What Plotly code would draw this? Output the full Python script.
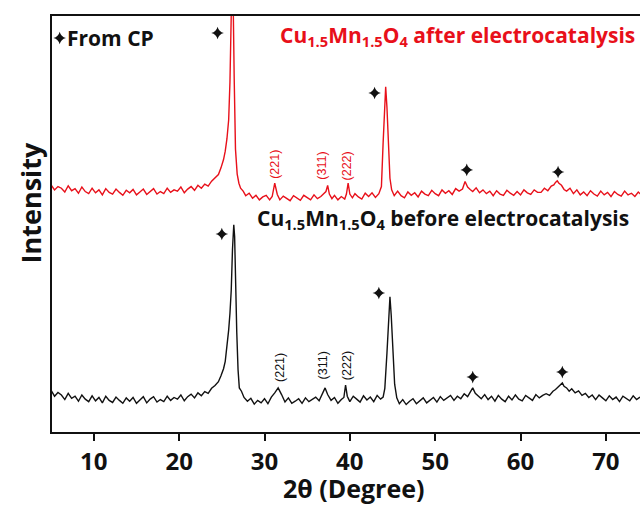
import plotly.graph_objects as go

# ---------------- data ----------------
red_x = [5.0, 5.4, 5.8, 6.2, 6.6, 7.0, 7.4, 7.8, 8.2, 8.6, 9.0, 9.4, 9.8, 10.2, 10.6, 11.0, 11.4, 11.8,
         12.2, 12.6, 13.0, 13.4, 13.8, 14.2, 14.6, 15.0, 15.4, 15.8, 16.2, 16.6, 17.0, 17.4, 17.8, 18.2,
         18.6, 19.0, 19.4, 19.8, 20.2, 20.6, 21.0, 21.4, 21.8, 22.2, 22.6, 23.0, 23.4, 23.8, 24.2, 24.6,
         24.9, 25.2, 25.4, 25.6, 25.8, 25.95, 26.1, 26.2, 26.3, 26.45, 26.6, 26.8, 27.0, 27.2, 27.5, 27.8,
         28.2, 28.6, 29.0, 29.4, 29.8, 30.2, 30.6, 30.9, 31.2, 31.5, 31.8, 32.2, 32.6, 33.0, 33.4, 33.8,
         34.2, 34.6, 35.0, 35.4, 35.8, 36.2, 36.6, 37.0, 37.2, 37.4, 37.6, 37.9, 38.2, 38.6, 39.0, 39.4,
         39.6, 39.8, 40.0, 40.3, 40.6, 41.0, 41.4, 41.8, 42.2, 42.6, 43.0, 43.4, 43.7, 43.9, 44.05, 44.2,
         44.35, 44.5, 44.7, 44.9, 45.2, 45.6, 46.0, 46.4, 46.8, 47.2, 47.6, 48.0, 48.4, 48.8, 49.2, 49.6,
         50.0, 50.4, 50.8, 51.2, 51.6, 52.0, 52.4, 52.8, 53.2, 53.5, 53.8, 54.1, 54.4, 54.8, 55.2, 55.6,
         56.0, 56.4, 56.8, 57.2, 57.6, 58.0, 58.4, 58.8, 59.2, 59.6, 60.0, 60.4, 60.8, 61.2, 61.6, 62.0,
         62.4, 62.8, 63.2, 63.6, 63.9, 64.1, 64.3, 64.5, 64.8, 65.1, 65.4, 65.8, 66.2, 66.6, 67.0, 67.4,
         67.8, 68.2, 68.6, 69.0, 69.4, 69.8, 70.2, 70.6, 71.0, 71.4, 71.8, 72.2, 72.6, 73.0, 73.4, 73.8, 74.2]
red_y = [59.4, 58.2, 59.0, 58.6, 57.7, 59.2, 58.0, 58.5, 57.4, 58.9, 57.8, 57.3, 58.6, 57.5, 58.2, 57.0, 58.5, 57.6,
         57.2, 58.4, 57.6, 56.9, 58.1, 57.5, 58.3, 57.0, 57.7, 58.4, 57.1, 57.9, 58.5, 57.2, 57.8, 57.3,
         58.6, 57.6, 58.2, 57.9, 58.9, 57.5, 58.4, 59.0, 58.1, 59.3, 58.6, 59.6, 59.1, 60.3, 61.0, 61.9,
         63.5, 65.5, 67.5, 70.5, 75.0, 84.0, 100.0, 115.0, 108.0, 85.0, 68.0, 62.0, 59.8, 58.6, 57.9, 56.8,
         57.4, 56.2, 56.9, 55.8, 56.5, 56.9, 55.8, 56.6, 59.8, 57.1, 55.8, 56.7, 56.1, 55.6, 56.8, 56.2,
         55.7, 56.9, 56.3, 55.8, 57.0, 56.1, 56.6, 57.3, 57.8, 59.3, 57.2, 56.1, 56.9, 55.8, 56.6, 56.0,
         57.2, 59.8, 57.2, 56.3, 57.3, 56.5, 56.0, 57.4, 56.6, 57.5, 56.4, 57.3, 59.0, 69.5, 78.0, 83.0,
         78.0, 69.5, 61.0, 58.2, 56.8, 57.9, 56.8, 56.3, 57.7, 56.9, 57.5, 56.5, 57.9, 57.2, 56.8, 58.1,
         57.3, 56.8, 58.2, 57.4, 58.0, 57.1, 58.5, 57.9, 58.4, 60.2, 58.9, 58.3, 57.8, 58.7, 57.5, 58.2,
         57.3, 57.9, 56.8, 58.0, 57.2, 56.9, 58.1, 57.4, 56.9, 57.8, 57.0, 58.2, 57.5, 57.1, 58.2, 57.6,
         57.6, 58.6, 58.0, 59.1, 59.4, 60.0, 60.4, 59.8, 59.3, 58.3, 57.9, 58.6, 57.3, 58.2, 57.0, 57.7,
         56.8, 58.0, 57.2, 56.7, 57.9, 57.0, 57.6, 56.6, 57.8, 57.1, 56.7, 57.9, 57.0, 57.4, 56.6, 57.7, 56.9]

black_x = [5.0, 5.4, 5.8, 6.2, 6.6, 7.0, 7.4, 7.8, 8.2, 8.6, 9.0, 9.4, 9.8, 10.2, 10.6, 11.0, 11.4, 11.8,
           12.2, 12.6, 13.0, 13.4, 13.8, 14.2, 14.6, 15.0, 15.4, 15.8, 16.2, 16.6, 17.0, 17.4, 17.8, 18.2,
           18.6, 19.0, 19.4, 19.8, 20.2, 20.6, 21.0, 21.4, 21.8, 22.2, 22.6, 23.0, 23.4, 23.8, 24.2, 24.6,
           24.9, 25.2, 25.4, 25.6, 25.8, 25.95, 26.1, 26.25, 26.4, 26.5, 26.6, 26.75, 26.9, 27.05, 27.3, 27.6,
           28.0, 28.4, 28.8, 29.2, 29.6, 30.0, 30.4, 30.8, 31.2, 31.6, 32.0, 32.4, 32.8, 33.2, 33.6, 34.0,
           34.4, 34.8, 35.2, 35.6, 36.0, 36.4, 36.8, 37.1, 37.4, 37.8, 38.2, 38.6, 39.0, 39.3, 39.5, 39.7,
           40.0, 40.4, 40.8, 41.2, 41.6, 42.0, 42.4, 42.8, 43.2, 43.6, 43.9, 44.1, 44.35, 44.55, 44.7, 44.85,
           45.05, 45.25, 45.5, 45.8, 46.2, 46.6, 47.0, 47.4, 47.8, 48.2, 48.6, 49.0, 49.4, 49.8, 50.2, 50.6,
           51.0, 51.4, 51.8, 52.2, 52.6, 53.0, 53.4, 53.8, 54.1, 54.4, 54.7, 55.0, 55.4, 55.8, 56.2, 56.6,
           57.0, 57.4, 57.8, 58.2, 58.6, 59.0, 59.4, 59.8, 60.2, 60.6, 61.0, 61.4, 61.8, 62.2, 62.6, 63.0,
           63.4, 63.8, 64.1, 64.4, 64.7, 64.9, 65.1, 65.4, 65.7, 66.0, 66.4, 66.8, 67.2, 67.6, 68.0, 68.4,
           68.8, 69.2, 69.6, 70.0, 70.4, 70.8, 71.2, 71.6, 72.0, 72.4, 72.8, 73.2, 73.6, 74.0]
black_y = [10.0, 8.6, 9.5, 8.9, 7.8, 9.3, 8.1, 8.6, 7.4, 8.9, 7.9, 7.3, 8.7, 7.5, 8.3, 7.0, 8.6, 7.6,
           7.1, 8.4, 7.6, 6.9, 8.2, 7.4, 8.3, 6.9, 7.7, 8.5, 7.0, 7.9, 8.5, 7.2, 7.8, 7.3,
           8.6, 7.6, 8.3, 7.9, 8.9, 7.5, 8.5, 9.1, 8.2, 9.4, 8.7, 9.7, 9.3, 10.5, 11.2, 12.1,
           13.5, 15.2, 17.0, 20.4, 24.5, 28.5, 34.0, 44.0, 49.8, 47.0, 35.0, 24.0, 15.0, 10.6, 9.8, 8.3,
           7.4, 8.1, 6.7, 7.6, 7.0, 8.0, 6.8, 8.4, 9.4, 10.6, 9.0, 7.2, 8.2, 6.9, 7.4, 8.0,
           6.9, 8.2, 7.3, 7.9, 8.4, 7.5, 9.2, 10.6, 9.0, 7.6, 8.3, 6.9, 7.8, 8.3, 11.3, 8.6,
           7.3, 8.6, 7.9, 7.2, 8.7, 7.7, 8.4, 7.3, 8.8, 7.9, 8.4, 10.5, 19.0, 29.0, 32.5, 28.0,
           19.0, 11.5, 8.2, 6.8, 7.8, 6.6, 7.4, 8.0, 6.8, 7.6, 8.2, 7.0, 7.7, 8.3, 7.2, 8.5,
           7.6, 8.2, 8.8, 7.6, 8.6, 8.0, 9.2, 8.5, 9.6, 10.6, 9.3, 8.7, 8.0, 9.0, 7.8, 8.6,
           7.4, 8.8, 7.9, 7.3, 8.6, 7.7, 8.9, 7.9, 7.5, 8.8, 8.1, 7.6, 9.0, 8.2, 8.8, 9.2,
           8.8, 9.8, 10.2, 10.8, 11.4, 11.8, 11.0, 10.6, 9.8, 10.4, 9.4, 9.9, 8.8, 9.3, 8.3, 8.9,
           7.8, 8.9, 8.2, 7.5, 8.7, 7.8, 8.4, 7.3, 8.6, 8.1, 7.5, 8.7, 7.8, 8.4]

star_x = [6.0, 24.5, 42.9, 53.7, 64.4, 25.0, 43.4, 54.4, 64.9]
star_y = [94.7, 95.9, 81.5, 63.0, 62.5, 47.6, 33.4, 13.2, 14.4]

hkl_labels = ["(221)", "(311)", "(222)"]
hkl_x_red = [31.2, 36.8, 39.7]
hkl_x_black = [31.8, 36.8, 39.7]
hkl_y_red = [64.4, 63.9, 63.9]
hkl_y_black = [15.6, 15.9, 15.9]

x_ticks = [10, 20, 30, 40, 50, 60, 70]

RED = "#e8101a"
INK = "#111111"
FONT = "Open Sans"

fig = go.Figure()
fig.add_trace(go.Scatter(x=red_x, y=red_y, mode="lines",
                         line=dict(color=RED, width=1.4), showlegend=False))
fig.add_trace(go.Scatter(x=black_x, y=black_y, mode="lines",
                         line=dict(color=INK, width=1.4), showlegend=False))
fig.add_trace(go.Scatter(x=star_x, y=star_y, mode="markers",
                         marker=dict(symbol="star-diamond", size=9, color=INK,
                                     line=dict(width=0)), showlegend=False))

ann = []
ann.append(dict(x=6.6, y=94.7, xref="x", yref="y", text="From CP", showarrow=False,
                xanchor="left", yanchor="middle",
                font=dict(family=FONT, size=21, color=INK, weight="bold")))
ann.append(dict(x=31.6, y=95.2, xref="x", yref="y",
                text="Cu<sub>1.5</sub>Mn<sub>1.5</sub>O<sub>4</sub> after electrocatalysis",
                showarrow=False, xanchor="left", yanchor="middle",
                font=dict(family=FONT, size=21, color=RED, weight="bold")))
ann.append(dict(x=28.9, y=51.2, xref="x", yref="y",
                text="Cu<sub>1.5</sub>Mn<sub>1.5</sub>O<sub>4</sub> before electrocatalysis",
                showarrow=False, xanchor="left", yanchor="middle",
                font=dict(family=FONT, size=21, color=INK, weight="bold")))
for lab, xx, yy in zip(hkl_labels, hkl_x_red, hkl_y_red):
    ann.append(dict(x=xx, y=yy, xref="x", yref="y", text=lab, showarrow=False,
                    textangle=-90, font=dict(family="Liberation Sans", size=12.5, color=RED)))
for lab, xx, yy in zip(hkl_labels, hkl_x_black, hkl_y_black):
    ann.append(dict(x=xx, y=yy, xref="x", yref="y", text=lab, showarrow=False,
                    textangle=-90, font=dict(family="Liberation Sans", size=12.5, color=INK)))
ann.append(dict(x=-0.037, y=0.55, xref="paper", yref="paper", text="Intensity",
                showarrow=False, textangle=-90, xanchor="center", yanchor="middle",
                font=dict(family=FONT, size=27, color=INK, weight="bold")))
ann.append(dict(x=0.512, y=-0.177, xref="paper", yref="paper", text="2θ (Degree)",
                showarrow=False, xanchor="center", yanchor="bottom", borderpad=0,
                font=dict(family=FONT, size=25, color=INK, weight="bold")))

fig.update_layout(
    width=640, height=506,
    margin=dict(l=52, r=0, t=16, b=74, pad=0),
    paper_bgcolor="white", plot_bgcolor="white",
    annotations=ann,
    xaxis=dict(range=[5.1, 74.0], tickvals=x_ticks, ticks="outside", ticklen=7, tickwidth=2,
               tickcolor=INK, showline=True, linewidth=2, linecolor=INK,
               mirror=True, showgrid=False, zeroline=False,
               tickfont=dict(family=FONT, size=24, color=INK, weight="bold")),
    yaxis=dict(range=[0, 100], showticklabels=False, ticks="", showline=True, linewidth=2,
               linecolor=INK, mirror=False, showgrid=False, zeroline=False),
)

fig.write_html("out.html")
